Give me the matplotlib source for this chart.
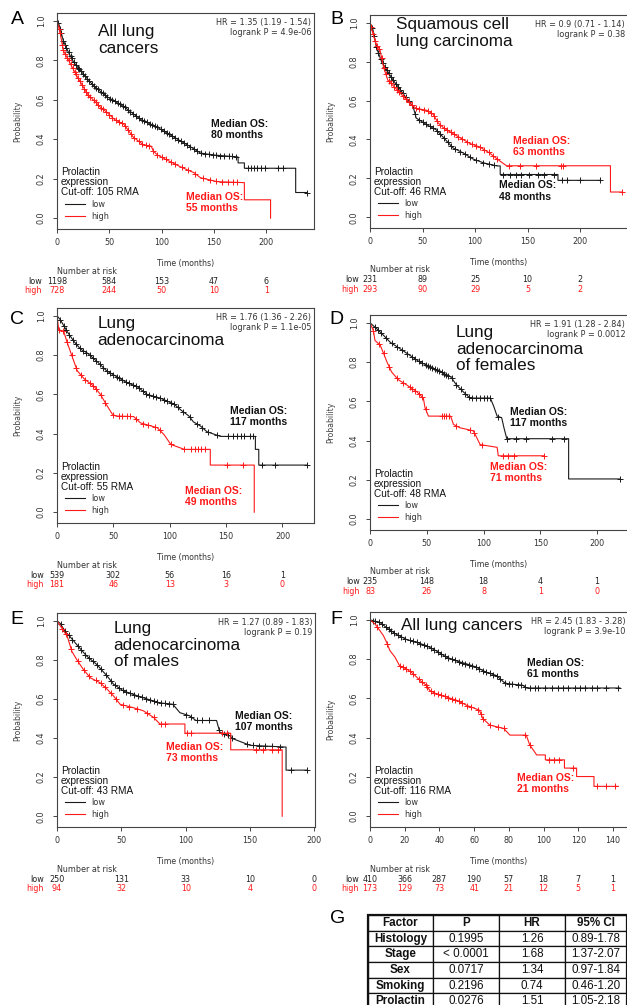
import numpy as np
import matplotlib
matplotlib.use('Agg')
import matplotlib.pyplot as plt

plt.rcParams['font.family'] = ['DejaVu Sans']

# ---------------- A: all lung cancers
a_low_t = [0, 2, 6, 11, 16, 22, 35, 48, 64, 80, 96, 112, 128, 137, 150, 173, 173, 179, 179, 228, 228, 239]
a_low_s = [1.0, 0.98, 0.90, 0.84, 0.79, 0.75, 0.67, 0.615, 0.565, 0.50, 0.46, 0.41, 0.36, 0.33, 0.32, 0.31, 0.28, 0.28, 0.253, 0.253, 0.13, 0.13]
a_low_cens = [1, 3, 4, 6, 8, 9, 11, 13, 14, 16, 18, 20, 21, 23, 25, 27, 29, 31, 33, 35, 37, 39, 42, 44, 46, 48, 51, 53, 55,
              58, 60, 63, 65, 68, 70, 73, 75, 78, 81, 83, 86, 89, 91, 94, 96, 99, 102, 105, 107, 110, 113, 116, 118, 121,
              124, 127, 131, 134, 138, 141, 145, 149, 152, 156, 160, 164, 167, 171, 182, 185, 188, 191, 195, 199, 211, 216, 239]
a_high_t = [0, 3, 6, 11, 19, 29, 41, 48, 55, 64, 73, 83, 90, 92, 96, 105, 118, 131, 137, 153, 179, 179, 204, 204]
a_high_s = [1.0, 0.94, 0.85, 0.80, 0.72, 0.63, 0.565, 0.535, 0.50, 0.475, 0.41, 0.37, 0.365, 0.34, 0.32, 0.295, 0.26, 0.23, 0.205, 0.185, 0.18, 0.093, 0.093, 0.0]
a_high_cens = [2, 3, 5, 6, 8, 10, 11, 13, 15, 17, 18, 20, 22, 24, 26, 28, 30, 32, 35, 37, 39, 42, 44, 47, 50, 53, 56, 59,
               62, 65, 68, 71, 74, 78, 81, 85, 88, 92, 96, 100, 104, 109, 113, 119, 125, 132, 139, 146, 152, 158, 163, 168, 172]
a_risk_t = [0, 50, 100, 150, 200]
a_risk_low = [1198, 584, 153, 47, 6]
a_risk_high = [728, 244, 50, 10, 1]

# ---------------- B: squamous cell
b_low_t = [0, 3, 6, 11, 16, 22, 29, 35, 41, 44, 54, 63, 70, 79, 89, 98, 108, 121, 124, 124, 179, 179, 219]
b_low_s = [1.0, 0.96, 0.875, 0.80, 0.757, 0.705, 0.655, 0.61, 0.57, 0.51, 0.476, 0.45, 0.41, 0.357, 0.33, 0.30, 0.28, 0.264, 0.264, 0.22, 0.22, 0.19, 0.19]
b_low_cens = [2, 4, 6, 8, 10, 12, 14, 16, 18, 20, 22, 25, 27, 29, 31, 34, 37, 40, 43, 47, 50, 53, 57, 60, 64, 67, 70, 74,
              77, 81, 86, 90, 95, 101, 108, 113, 118, 127, 133, 139, 144, 151, 160, 166, 175, 183, 188, 200, 219]
b_high_t = [0, 3, 6, 9.5, 13, 17, 25, 32, 38, 44, 54, 60, 65, 70, 79, 95, 105, 114, 121, 130, 229, 229, 240]
b_high_s = [1.0, 0.94, 0.89, 0.86, 0.77, 0.705, 0.66, 0.62, 0.585, 0.56, 0.55, 0.53, 0.485, 0.46, 0.43, 0.38, 0.36, 0.33, 0.30, 0.265, 0.265, 0.13, 0.13]
b_high_cens = [1, 3, 5, 7, 9, 11, 13, 15, 18, 20, 23, 26, 28, 31, 34, 37, 40, 44, 47, 51, 55, 58, 61, 64, 67, 70, 73, 77,
               80, 84, 88, 92, 97, 101, 105, 109, 113, 117, 121, 132, 143, 158, 182, 184, 240]
b_risk_t = [0, 50, 100, 150, 200]
b_risk_low = [231, 89, 25, 10, 2]
b_risk_high = [293, 90, 29, 5, 2]

# ---------------- C: adenocarcinoma
c_low_t = [0, 3, 9, 15, 21, 27, 36, 44, 53, 62, 71, 80, 92, 104, 110, 117, 121, 127, 133, 145, 176, 176, 179, 179, 222]
c_low_s = [1.0, 0.98, 0.92, 0.87, 0.83, 0.81, 0.765, 0.72, 0.69, 0.66, 0.64, 0.60, 0.58, 0.55, 0.52, 0.49, 0.46, 0.44, 0.41, 0.386, 0.386, 0.32, 0.32, 0.24, 0.24]
c_low_cens = [3, 6, 8, 11, 14, 17, 20, 23, 26, 29, 32, 35, 38, 41, 44, 47, 50, 53, 55, 58, 61, 64, 67, 70, 73, 76, 79, 82,
              85, 88, 91, 95, 98, 101, 104, 107, 112, 118, 124, 129, 134, 142, 152, 156, 160, 163, 166, 171, 174, 182, 193, 222]
c_high_t = [0, 1.5, 6, 9, 13, 18, 24, 33, 38.5, 44, 49, 52, 68, 74, 89, 95, 101, 113, 136, 136, 175, 175]
c_high_s = [1.0, 0.93, 0.92, 0.865, 0.80, 0.72, 0.68, 0.64, 0.60, 0.546, 0.50, 0.49, 0.487, 0.455, 0.43, 0.395, 0.345, 0.32, 0.32, 0.24, 0.24, 0.0]
c_high_cens = [2, 5, 9, 13, 17, 21, 25, 29, 32, 35, 39, 43, 50, 55, 58, 62, 65, 70, 76, 81, 87, 91, 101, 113, 119, 122,
               125, 128, 131, 151, 165]
c_risk_t = [0, 50, 100, 150, 200]
c_risk_low = [539, 302, 56, 16, 1]
c_risk_high = [181, 46, 13, 3, 0]

# ---------------- D: adenocarcinoma, females
d_low_t = [0, 6, 12, 18, 26, 35, 44, 53, 62, 71, 76, 82, 88, 106, 109, 112, 116, 118, 120.5, 175, 175, 220]
d_low_s = [1.0, 0.97, 0.936, 0.90, 0.87, 0.835, 0.80, 0.777, 0.75, 0.726, 0.685, 0.65, 0.617, 0.617, 0.575, 0.525, 0.517, 0.466, 0.41, 0.41, 0.205, 0.205]
d_low_cens = [4, 7, 10, 14, 19, 24, 28, 33, 37, 40, 43, 46, 49, 51, 53, 55, 57, 59, 61, 63, 65, 67, 69, 72, 76, 80, 84,
              87, 90, 93, 97, 100, 103, 106, 113, 121, 129, 137, 160, 171, 220]
d_high_t = [0, 3, 4.4, 9, 12, 15, 19, 25, 32, 41, 47, 48.5, 51.5, 71, 73.5, 79, 91, 94, 97, 112, 113, 153]
d_high_s = [1.0, 0.96, 0.91, 0.886, 0.844, 0.80, 0.75, 0.71, 0.685, 0.65, 0.617, 0.567, 0.525, 0.525, 0.483, 0.466, 0.45, 0.416, 0.38, 0.366, 0.323, 0.323]
d_high_cens = [3, 8, 12, 17, 24, 29, 35, 37, 40, 43, 46, 49, 63, 65, 67, 70, 76, 88, 92, 99, 117, 122, 127, 153]
d_risk_t = [0, 50, 100, 150, 200]
d_risk_low = [235, 148, 18, 4, 1]
d_risk_high = [83, 26, 8, 1, 0]

# ---------------- E: adenocarcinoma, males
e_low_t = [0, 2.6, 6.5, 10, 15.5, 23, 31, 39, 44, 52, 59, 70, 80, 90, 95.5, 103, 108, 124, 126.5, 134, 137, 150, 178, 178, 194]
e_low_s = [1.0, 0.986, 0.944, 0.92, 0.877, 0.82, 0.776, 0.717, 0.675, 0.64, 0.624, 0.60, 0.58, 0.573, 0.53, 0.514, 0.49, 0.49, 0.43, 0.413, 0.396, 0.363, 0.354, 0.236, 0.236]
e_low_cens = [3, 6, 9, 12, 16, 19, 22, 25, 28, 31, 34, 38, 42, 45, 48, 51, 54, 57, 60, 63, 66, 69, 72, 75, 78, 81, 84,
              87, 90, 100, 104, 109, 113, 118, 126, 130, 133, 136, 148, 152, 157, 162, 167, 173, 182, 194]
e_high_t = [0, 4, 8, 11.6, 15.5, 20.6, 26, 33.5, 39, 44, 49, 59, 67, 75, 80, 99.4, 99.4, 135, 135, 175, 175]
e_high_s = [1.0, 0.96, 0.92, 0.843, 0.80, 0.75, 0.708, 0.683, 0.65, 0.615, 0.573, 0.556, 0.54, 0.506, 0.472, 0.472, 0.425, 0.425, 0.34, 0.34, 0.0]
e_high_cens = [4, 7, 11, 16, 21, 25, 30, 34, 37, 42, 46, 51, 56, 62, 70, 75, 81, 84, 101, 104, 128, 132, 155, 160, 167, 172]
e_risk_t = [0, 50, 100, 150, 200]
e_risk_low = [250, 131, 33, 10, 0]
e_risk_high = [94, 32, 10, 4, 0]

# ---------------- F: all lung cancers (second cohort)
f_low_t = [0, 2, 5.8, 9.6, 15, 21, 27, 32.6, 38, 44, 50, 55.6, 61, 67, 73, 77, 79, 88, 90, 144]
f_low_s = [1.0, 0.995, 0.986, 0.96, 0.927, 0.90, 0.885, 0.868, 0.843, 0.81, 0.79, 0.776, 0.76, 0.733, 0.716, 0.683, 0.675, 0.667, 0.653, 0.653]
f_low_cens = [2, 3, 5, 7, 9, 11, 12, 14, 16, 18, 20, 23, 25, 27, 29, 31, 33, 35, 37, 39, 41, 43, 45, 47, 49, 51, 53, 55,
              57, 59, 61, 63, 65, 67, 69, 71, 73, 75, 78, 80, 82, 85, 87, 89, 92, 95, 97, 101, 105, 108, 111, 114, 118,
              121, 124, 128, 131, 136, 143]
f_high_t = [0, 3, 5.8, 7.7, 9.6, 11.5, 14.4, 17, 21, 25, 29, 32.6, 34.5, 38, 44, 50, 55.6, 63, 65, 69, 77, 80.6, 90, 92,
            96, 101, 101, 112, 112, 119, 119, 129, 129, 143]
f_high_s = [1.0, 0.978, 0.944, 0.92, 0.885, 0.843, 0.81, 0.767, 0.75, 0.725, 0.69, 0.666, 0.64, 0.624, 0.607, 0.59, 0.565,
            0.54, 0.497, 0.464, 0.447, 0.413, 0.413, 0.363, 0.312, 0.312, 0.287, 0.287, 0.245, 0.245, 0.202, 0.202, 0.152, 0.152]
f_high_cens = [4, 10, 17, 19, 21, 23, 25, 28, 30, 32, 33, 35, 37, 39, 41, 43, 45, 47, 49, 51, 53, 56, 58, 62, 64, 65, 69,
               74, 77, 89, 92, 103, 106, 109, 117, 131, 136, 141]
f_risk_t = [0, 20, 40, 60, 80, 100, 120, 140]
f_risk_low = [410, 366, 287, 190, 57, 18, 7, 1]
f_risk_high = [173, 129, 73, 41, 21, 12, 5, 1]

# ---------------- G: multivariate table
g_cols = ['Factor', 'P', 'HR', '95% CI']
g_factor = ['Histology', 'Stage', 'Sex', 'Smoking', 'Prolactin']
g_p = ['0.1995', '< 0.0001', '0.0717', '0.2196', '0.0276']
g_hr = ['1.26', '1.68', '1.34', '0.74', '1.51']
g_ci = ['0.89-1.78', '1.37-2.07', '0.97-1.84', '0.46-1.20', '1.05-2.18']

W, H = 627, 1005
BLACK = '#1a1a1a'
RED = '#ff1a1a'
ARIAL = 'Liberation Sans'

panels = [
    dict(letter='A', letter_xy=(17, 20), box=(57, 13, 314, 229), xmax=245.5, xticks=[0, 50, 100, 150, 200],
         low=(a_low_t, a_low_s, a_low_cens), high=(a_high_t, a_high_s, a_high_cens),
         risk=(a_risk_t, a_risk_low, a_risk_high), lab_dx=15, title='All lung\ncancers', title_xy=(39, 0.985),
         hr='HR = 1.35 (1.19 - 1.54)\nlogrank P = 4.9e-06', cut='105',
         med_low=('80', (147, 0.505)), med_high=('55', (123, 0.135))),
    dict(letter='B', letter_xy=(337, 20), box=(370, 15, 628, 228), xmax=245.7, xticks=[0, 50, 100, 150, 200],
         low=(b_low_t, b_low_s, b_low_cens), high=(b_high_t, b_high_s, b_high_cens),
         risk=(b_risk_t, b_risk_low, b_risk_high), lab_dx=11, title='Squamous cell\nlung carcinoma', title_xy=(25, 1.03),
         hr='HR = 0.9 (0.71 - 1.14)\nlogrank P = 0.38', cut='46',
         med_low=('48', (123, 0.19)), med_high=('63', (136.5, 0.42))),
    dict(letter='C', letter_xy=(17, 319), box=(57, 308, 314, 523), xmax=228, xticks=[0, 50, 100, 150, 200],
         low=(c_low_t, c_low_s, c_low_cens), high=(c_high_t, c_high_s, c_high_cens),
         risk=(c_risk_t, c_risk_low, c_risk_high), lab_dx=13, title='Lung\nadenocarcinoma', title_xy=(36, 1.0),
         hr='HR = 1.76 (1.36 - 2.26)\nlogrank P = 1.1e-05', cut='55',
         med_low=('117', (153.5, 0.54)), med_high=('49', (113.5, 0.135))),
    dict(letter='D', letter_xy=(336, 320), box=(370, 315, 628, 530), xmax=227.3, xticks=[0, 50, 100, 150, 200],
         low=(d_low_t, d_low_s, d_low_cens), high=(d_high_t, d_high_s, d_high_cens),
         risk=(d_risk_t, d_risk_low, d_risk_high), lab_dx=10, title='Lung\nadenocarcinoma\nof females', title_xy=(75.6, 0.99),
         hr='HR = 1.91 (1.28 - 2.84)\nlogrank P = 0.0012', cut='48',
         med_low=('117', (123.5, 0.57)), med_high=('71', (106, 0.29))),
    dict(letter='E', letter_xy=(17, 620), box=(57, 613, 315, 827), xmax=200.5, xticks=[0, 50, 100, 150, 200],
         low=(e_low_t, e_low_s, e_low_cens), high=(e_high_t, e_high_s, e_high_cens),
         risk=(e_risk_t, e_risk_low, e_risk_high), lab_dx=13, title='Lung\nadenocarcinoma\nof males', title_xy=(44, 1.0),
         hr='HR = 1.27 (0.89 - 1.83)\nlogrank P = 0.19', cut='43',
         med_low=('107', (138, 0.54)), med_high=('73', (84.4, 0.38))),
    dict(letter='F', letter_xy=(336, 619), box=(370, 612, 628, 827), xmax=148.6, xticks=[0, 20, 40, 60, 80, 100, 120, 140],
         low=(f_low_t, f_low_s, f_low_cens), high=(f_high_t, f_high_s, f_high_cens),
         risk=(f_risk_t, f_risk_low, f_risk_high), lab_dx=11, title='All lung cancers', title_xy=(18, 1.01),
         hr='HR = 2.45 (1.83 - 3.28)\nlogrank P = 3.9e-10', cut='116',
         med_low=('61', (90.6, 0.805)), med_high=('21', (84.5, 0.22))),
]

fig = plt.figure(figsize=(W / 100, H / 100), dpi=100)


def km(ax, t, s, cens, color):
    t = np.asarray(t, float)
    s = np.asarray(s, float)
    line, = ax.plot(t, s, color=color, lw=0.8)
    c = np.asarray(cens, float)
    ax.plot(c, np.interp(c, t, s), '+', color=color, ms=4.2, mew=0.7)
    return line


def below(ax, x, dy, s, color, ha='center', dx=0):
    # text placed dy pixels under the bottom of the box (dx pixels sideways)
    ax.annotate(s, xy=(x, 0), xycoords=('data', 'axes fraction'), xytext=(dx * 0.72, -dy * 0.72),
                textcoords='offset points', ha=ha, va='center', fontsize=5.8, color=color,
                annotation_clip=False)


for p in panels:
    x0, y0, x1, y1 = p['box']
    ax = fig.add_axes([x0 / W, (H - y1) / H, (x1 - x0) / W, (y1 - y0) / H])
    ax.set_xlim(0, p['xmax'])
    ax.set_ylim(-0.055, 1.04)
    for sp in ax.spines.values():
        sp.set_color('#444444')
        sp.set_linewidth(0.8)

    lo = km(ax, *p['low'], BLACK)
    hi = km(ax, *p['high'], RED)

    ax.set_xticks(p['xticks'])
    ax.set_yticks([0, 0.2, 0.4, 0.6, 0.8, 1.0])
    ax.set_yticklabels(['0.0', '0.2', '0.4', '0.6', '0.8', '1.0'], rotation=90, va='center')
    ax.tick_params(length=3, width=0.7, color='#444444', labelsize=5.8, labelcolor='#333333')
    ax.tick_params(axis='x', pad=3.5)
    ax.tick_params(axis='y', pad=5)
    ax.set_ylabel('Probability', fontsize=5.6, color='#444444')
    ax.yaxis.set_label_coords(-35 / (x1 - x0), 0.5)
    ax.set_xlabel('Time (months)', fontsize=5.6, color='#333333')
    ax.xaxis.set_label_coords(0.5, -30 / (y1 - y0))

    ax.annotate(p['hr'], xy=(1, 1), xycoords='axes fraction', xytext=(-2, -3.5),
                textcoords='offset points', ha='right', va='top', fontsize=5.9,
                color='#333333', linespacing=1.15)
    ax.text(p['title_xy'][0], p['title_xy'][1], p['title'], ha='left', va='top',
            fontsize=12.3, family=ARIAL, color='#111111', linespacing=1.15)
    ax.text(p['med_low'][1][0], p['med_low'][1][1], 'Median OS:\n%s months' % p['med_low'][0],
            ha='left', va='top', fontsize=7.5, family=ARIAL, weight='bold', color='#111111', linespacing=1.15)
    ax.text(p['med_high'][1][0], p['med_high'][1][1], 'Median OS:\n%s months' % p['med_high'][0],
            ha='left', va='top', fontsize=7.5, family=ARIAL, weight='bold', color=RED, linespacing=1.15)
    ax.text(0.015, 0.285, 'Prolactin\nexpression\nCut-off: %s RMA' % p['cut'], transform=ax.transAxes,
            ha='left', va='top', fontsize=7.2, family=ARIAL, color='#111111', linespacing=1.0)
    ax.legend([lo, hi], ['low', 'high'], loc='lower left', bbox_to_anchor=(0.01, 0.01),
              frameon=False, fontsize=5.9, handlelength=2.4, handletextpad=0.8,
              labelspacing=0.35, borderpad=0.2, labelcolor='#333333')

    rt, rlow, rhigh = p['risk']
    below(ax, 0, 42, 'Number at risk', '#333333', ha='left')
    below(ax, 0, 52, 'low', '#222222', ha='right', dx=-p['lab_dx'])
    below(ax, 0, 61.5, 'high', RED, ha='right', dx=-p['lab_dx'])
    for t, nl, nh in zip(rt, rlow, rhigh):
        below(ax, t, 52, str(nl), '#222222')
        below(ax, t, 61.5, str(nh), RED)

    fig.text(p['letter_xy'][0] / W, 1 - p['letter_xy'][1] / H, p['letter'], fontsize=14,
             family=ARIAL, ha='center', va='center')

# table G
fig.text(338 / W, 1 - 918 / H, 'G', fontsize=14, family=ARIAL, ha='center', va='center')
tax = fig.add_axes([368 / W, (H - 1009) / H, 259 / W, 94 / H])
tax.axis('off')
cells = [list(r) for r in zip(g_factor, g_p, g_hr, g_ci)]
tb = tax.table(cellText=cells, colLabels=g_cols, colWidths=[65, 66, 66, 62],
               cellLoc='center', bbox=[0, 0, 1, 1])
tb.auto_set_font_size(False)
tb.set_fontsize(8.4)
for (r, c), cell in tb.get_celld().items():
    cell.set_linewidth(0.9)
    cell.set_edgecolor('#111111')
    cell.get_text().set_fontfamily(ARIAL)
    cell.get_text().set_color('#111111')
    if r == 0 or c == 0:
        cell.get_text().set_fontweight('bold')
tax.add_patch(plt.Rectangle((0, 0), 1, 1, transform=tax.transAxes, fill=False,
                            lw=1.6, edgecolor='#111111', clip_on=False))

fig.savefig('out.png', dpi=100)
